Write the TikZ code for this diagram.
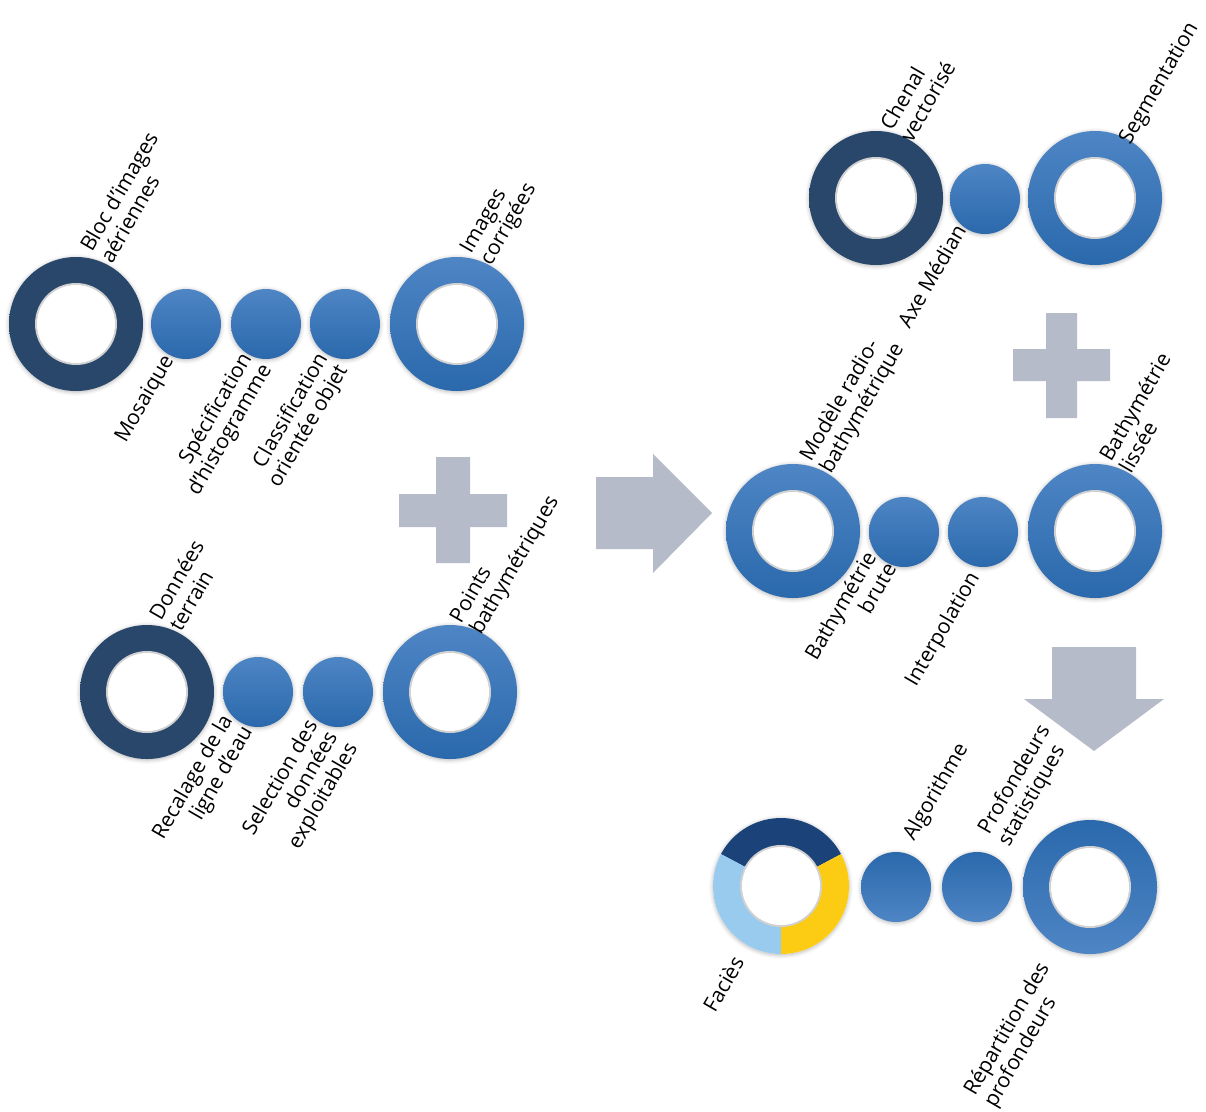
\documentclass[tikz,border=0pt]{standalone}
\usepackage{fontspec}
\setmainfont{Open Sans}
\usepackage{xcolor}
\usepackage{tikz}
\usetikzlibrary{shadows.blur}

\definecolor{navy}{RGB}{40,71,107}
\definecolor{bluetop}{RGB}{78,133,197}
\definecolor{bluebot}{RGB}{42,105,172}
\definecolor{greyarrow}{RGB}{182,187,201}
\definecolor{facdark}{RGB}{27,67,122}
\definecolor{facyellow}{RGB}{252,203,20}
\definecolor{faclight}{RGB}{153,203,238}

\begin{document}
\begin{tikzpicture}[x=1pt,y=1pt,
  soft/.style={blur shadow={shadow xshift=0pt,shadow yshift=-1pt,shadow blur radius=4pt,shadow opacity=30}},
  ring/.style={circle,minimum size=134pt,inner sep=0pt,soft,top color=bluetop,bottom color=bluebot,
    path picture={\fill[black!18] (path picture bounding box.center) circle (41pt);
                  \fill[white] (path picture bounding box.center) circle (39pt);}},
  ringrev/.style={ring,top color=bluebot,bottom color=bluetop},
  darkring/.style={ring,top color=navy,bottom color=navy},
  dot/.style={circle,minimum size=70pt,inner sep=0pt,soft,top color=bluetop,bottom color=bluebot},
  dotrev/.style={dot,top color=bluebot,bottom color=bluetop},
  facies/.style={circle,minimum size=136pt,inner sep=0pt,soft,fill=white,
    path picture={
      \begin{scope}[shift={(path picture bounding box.center)}]
        \fill[facdark] (0,0) -- (28:70pt) arc[start angle=28,end angle=152,radius=70pt] -- cycle;
        \fill[faclight] (0,0) -- (152:70pt) arc[start angle=152,end angle=270,radius=70pt] -- cycle;
        \fill[facyellow] (0,0) -- (270:70pt) arc[start angle=270,end angle=388,radius=70pt] -- cycle;
        \fill[black!18] (0,0) circle (41pt);
        \fill[white] (0,0) circle (39pt);
      \end{scope}}},
  toplab/.style={rotate=60,anchor=base west,align=left,inner sep=0pt,font=\fontsize{21}{23}\selectfont},
  botlab/.style={rotate=60,anchor=base east,align=right,inner sep=0pt,font=\fontsize{21}{23}\selectfont}]

\useasboundingbox (0,0) rectangle (1206,-1111);

\fill[greyarrow] (436,-457) rectangle (470,-563) (399,-494) rectangle (507,-527);
\fill[greyarrow] (1046,-313) rectangle (1077,-418) (1013,-349) rectangle (1110,-381);
\fill[greyarrow] (596,-477) -- (653,-477) -- (653,-454) -- (712,-513) -- (653,-573) -- (653,-549) -- (596,-549) -- cycle;
\fill[greyarrow] (1052,-647) -- (1136,-647) -- (1136,-699) -- (1164,-699) -- (1094,-751) -- (1024,-699) -- (1052,-699) -- cycle;

\node[darkring] (bloc) at (76,-324) {};
\node[dot] (mosaique) at (186,-324) {};
\node[dot] (histo) at (266,-324) {};
\node[dot] (classif) at (345,-324) {};
\node[ring] (corrigees) at (457,-324) {};

\node[darkring] (terrain) at (147,-692) {};
\node[dot] (recalage) at (258,-692) {};
\node[dot] (selection) at (338,-692) {};
\node[ring] (points) at (450,-692) {};

\node[darkring] (chenal) at (876,-198) {};
\node[dot] (axe) at (985,-199) {};
\node[ring] (segment) at (1095,-198) {};

\node[ring] (modele) at (793,-531) {};
\node[dot] (brute) at (904,-532) {};
\node[dot] (interpol) at (983,-532) {};
\node[ring] (lissee) at (1095,-531) {};

\node[facies] (facies) at (781,-886) {};
\node[dotrev] (algo) at (896,-887) {};
\node[dotrev] (stats) at (977,-887) {};
\node[ringrev] (repart) at (1090,-887) {};

\node[toplab] (lbloc) at (112,-264.5) {Bloc d'images\\aériennes};
\node[toplab] (lcorrigees) at (491,-266.5) {Images\\corrigées};
\node[toplab] (lterrain) at (181,-633) {Données\\terrain};
\node[toplab] (lpoints) at (481,-636) {Points\\bathymétriques};
\node[toplab] (lchenal) at (912,-143.5) {Chenal\\vectorisé};
\node[toplab] (lsegment) at (1130,-146) {Segmentation};
\node[toplab] (lmodele) at (831,-474.5) {Modèle radio-\\bathymétrique};
\node[toplab] (llissee) at (1131,-474.5) {Bathymétrie\\lissée};
\node[toplab] (lalgo) at (914,-842) {Algorithme};
\node[toplab] (lstats) at (1009,-847.5) {Profondeurs\\statistiques};

\node[botlab] (lmosaique) at (174,-360) {Mosaique};
\node[botlab] (lhisto) at (272,-369.5) {Spécification\\d'histogramme};
\node[botlab] (lclassif) at (348,-369.5) {Classification\\orientée objet};
\node[botlab] (lrecalage) at (253,-731.5) {Recalage de la\\ligne d'eau};
\node[botlab] (lselection) at (358,-748) {Selection des\\données\\exploitables};
\node[botlab] (laxe) at (967,-230) {Axe Médian};
\node[botlab] (lbrute) at (897,-568.5) {Bathymétrie\\brute};
\node[botlab] (linterpol) at (980,-577) {Interpolation};
\node[botlab] (lfacies) at (745,-962) {Faciès};
\node[toplab] (lrepart) at (995,-1108.5) {Répartition des\\profondeurs};
\end{tikzpicture}
\end{document}
